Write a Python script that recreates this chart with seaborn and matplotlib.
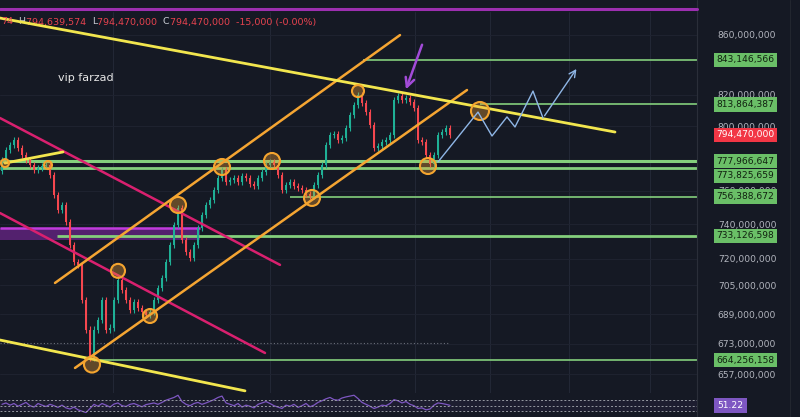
import numpy as np
import pandas as pd
import seaborn as sns
import matplotlib.pyplot as plt
import matplotlib.transforms as mtransforms
from matplotlib.lines import Line2D
from matplotlib.ticker import NullLocator

# prices in millions, one candle per bar index
closes = [778.7, 784.9, 788.0, 791.2, 786.2, 781.9, 778.7, 775.6, 772.6, 773.8,
          775.0, 775.6, 769.5, 757.4, 748.4, 751.4, 741.3, 728.0, 718.2, 716.5,
          696.9, 680.6, 665.7, 680.6, 686.0, 696.9, 680.6, 681.7, 696.9, 708.0,
          702.4, 696.9, 691.4, 695.8, 692.5, 690.3, 688.7, 690.3, 696.9, 703.5,
          709.1, 718.2, 728.0, 739.6, 749.6, 730.8, 723.9, 720.5, 728.0, 737.8,
          745.5, 751.4, 754.4, 760.4, 767.6, 772.6, 765.2, 766.4, 767.6, 765.2,
          768.9, 767.6, 764.0, 762.8, 767.6, 771.3, 775.6, 777.5, 775.6, 769.5,
          760.4, 763.4, 765.2, 762.8, 761.6, 760.4, 758.0, 756.8, 763.4, 769.5,
          775.6, 788.0, 794.3, 794.9, 791.2, 792.4, 798.7, 807.0, 813.4, 819.9,
          814.7, 808.9, 800.6, 786.2, 787.4, 789.9, 791.2, 794.3, 816.7, 819.2,
          816.7, 818.0, 815.4, 811.5, 791.2, 789.9, 781.9, 776.2, 781.9, 794.3,
          796.2, 798.7, 794.47]
first_open = 772.0

rsi = [55, 60, 52, 58, 48, 55, 62, 50, 45, 58, 52, 47, 55, 50, 44, 52,
       42, 38, 45, 35, 30, 25, 40,
       55, 48, 58, 52, 45, 56, 60, 50, 47, 55, 58, 52, 46, 54, 57, 60, 55, 62,
       70, 75, 80, 88, 65, 55,
       50, 58, 62, 55, 60, 66, 72, 80, 85,
       60, 55, 50, 58, 45, 52, 48, 42, 55, 60, 65, 58, 50, 45, 40, 52, 48, 55,
       44, 50, 58, 46, 52, 62, 68,
       75, 80, 72, 70, 78, 82, 85, 88, 76, 62,
       55, 48, 40, 45, 52, 50, 58, 72, 68, 60, 65, 55, 50, 40, 42, 35, 38, 52,
       60, 58, 55, 51.22]

price_ticks = [860, 820, 800, 760, 740, 720, 705, 689, 673, 657]
levels = [843.146566, 813.864387, 777.966647, 773.825659, 756.388672, 733.126598, 664.256158]
# where each level's price tag sits on the scale (tags pushed apart when they crowd)
level_tag_y = [843.146566, 813.864387, 777.966647, 768.9, 756.388672, 733.126598, 664.256158]
level_starts = [90.25, 119.5, -0.5, -0.5, 72, 13.75, 23.5]
level_widths = [1.2, 1.2, 2.2, 2.0, 1.2, 2.0, 1.2]
last_price = 794.47

# drawing tools: (bar index, price)
yellow_lines = [[(-0.5, 871.6), (153.25, 796.2)],
                [(-0.5, 675.0), (60.75, 648.3)],
                [(0.75, 776.8), (15.25, 783.7)]]
orange_lines = [[(13.25, 706.3), (99.5, 859.9)],
                [(18.25, 660.2), (116.25, 823.2)]]
pink_lines = [[(-0.5, 805.1), (69.5, 716.5)],
              [(-0.5, 746.6), (65.75, 668.1)]]
band_x = [-0.5, 49.5]
band_low, band_high = 730.8, 737.8

circle_x = [0.75, 11.5, 22.5, 29, 37, 44, 55, 67.5, 77.5, 89, 106.5, 119.5]
circle_y = [776.8, 775.6, 662.0, 713.1, 688.0, 751.4, 774.4, 778.1, 755.6, 822.5, 775.0, 809.6]
circle_r = [4, 4, 8, 7, 7, 8, 8, 8, 8, 6, 8, 9]

path_x = [109, 119, 122.5, 126.25, 128.25, 132.75, 135.25, 144]
path_y = [777.5, 808.9, 793.7, 805.8, 799.4, 822.5, 805.1, 838.6]

arrow_from = (105.25, 855.1)
arrow_to = (100.75, 821.9)

grid_x = [27.75, 67, 103.25, 122, 141.75, 162]

bg = '#151924'
sns.set_theme(style='dark', rc={'axes.facecolor': bg, 'figure.facecolor': bg})

fig = plt.figure(figsize=(8, 4.17), dpi=100)
ax = fig.add_axes([0, 24 / 417, 697 / 800, 381 / 417])
ax2 = fig.add_axes([0, 0, 697 / 800, 24 / 417], sharex=ax)

df = pd.DataFrame({'close': closes})
df['open'] = df['close'].shift(1).fillna(first_open)
df['idx'] = np.arange(len(df))
up = df['close'] >= df['open']
colors = np.where(up, '#1fb096', '#f5474f')
body_lo = np.minimum(df['open'], df['close'])
body_hi = np.maximum(df['open'], df['close'])
ax.vlines(df['idx'], body_lo * 0.9975, body_hi * 1.0025, colors=colors, lw=0.8, zorder=4)
ax.bar(df['idx'], np.maximum(body_hi - body_lo, 0.4), bottom=body_lo, width=0.7,
       color=colors, edgecolor='none', linewidth=0, zorder=4)

ax.set_yscale('log')
ax.set_xlim(-0.5, 173.75)
ax.set_ylim(647.2, 875.8)
xr = 173.75

for gx in grid_x:
    ax.axvline(gx, color='#232836', lw=0.7, zorder=0)
for t in price_ticks:
    ax.axhline(t, color='#1f2330', lw=0.7, zorder=0)

# horizontal levels
for lv, x0, w in zip(levels, level_starts, level_widths):
    ax.hlines(lv, x0, xr, color='#84cf7c', lw=w, zorder=3)
ax.hlines(673.5, -0.5, 112, color='#6b6f7a', lw=0.8, linestyles=(0, (1, 2)), zorder=2)

ax.fill_between(band_x, band_low, band_high, color='#5b2277', alpha=0.9, zorder=2, lw=0)
ax.hlines(band_high, band_x[0], band_x[1], color='#c13bdc', lw=1.8, zorder=3)

for seg in pink_lines:
    (x0, y0), (x1, y1) = seg
    ax.plot([x0, x1], [y0, y1], color='#d9206f', lw=1.8, zorder=5)
for seg in orange_lines:
    (x0, y0), (x1, y1) = seg
    ax.plot([x0, x1], [y0, y1], color='#f5a532', lw=1.8, zorder=5)
for seg in yellow_lines:
    (x0, y0), (x1, y1) = seg
    ax.plot([x0, x1], [y0, y1], color='#f2e64e', lw=2.0, zorder=5)

sizes = [(1.44 * r) ** 2 for r in circle_r]
ax.scatter(circle_x, circle_y, s=sizes, facecolors=(0.95, 0.63, 0.2, 0.35),
           edgecolors='#f5a52f', linewidths=1.5, zorder=6)

sns.lineplot(x=path_x[:-1], y=path_y[:-1], ax=ax, color='#8fb6e6', lw=1.0, zorder=6,
             sort=False, estimator=None)
ax.annotate('', xy=(path_x[-1], path_y[-1]), xytext=(path_x[-2], path_y[-2]),
            arrowprops=dict(arrowstyle='->', color='#8fb6e6', lw=1.0, mutation_scale=12), zorder=6)
ax.annotate('', xy=arrow_to, xytext=arrow_from,
            arrowprops=dict(arrowstyle='->', color='#a24bd8', lw=1.8, mutation_scale=16), zorder=7)

ax.set_yticks(price_ticks)
ax.set_yticklabels([f"{t * 1e6:,.0f}" for t in price_ticks])
ax.yaxis.set_minor_locator(NullLocator())
ax.yaxis.tick_right()
ax.tick_params(axis='y', length=0, pad=15, labelsize=6.6, labelcolor='#b2b5be')
ax.tick_params(axis='x', length=0, labelbottom=False)
ax.set_xlabel('')
ax.set_ylabel('')
for s in ax.spines.values():
    s.set_visible(False)

tr = mtransforms.blended_transform_factory(fig.transFigure, ax.transData)
for lv, ty in zip(levels, level_tag_y):
    ax.text(745.5 / 800, ty, f"{round(lv * 1e6):,}", transform=tr, ha='center', va='center',
            fontsize=6.6, color='#10200f', clip_on=False, zorder=10,
            bbox=dict(boxstyle='square,pad=0.3', fc='#6abf67', ec='none'))
ax.text(745.5 / 800, last_price, f"{round(last_price * 1e6):,}", transform=tr, ha='center',
        va='center', fontsize=6.6, color='white', clip_on=False, zorder=10,
        bbox=dict(boxstyle='square,pad=0.3', fc='#f23645', ec='none'))

# RSI pane
sns.lineplot(x=np.arange(len(rsi)), y=rsi, ax=ax2, color='#7e57c2', lw=0.9)
ax2.fill_between([-0.5, xr], 30, 70, color='#7e57c2', alpha=0.08, lw=0)
for lv in [70, 50, 30]:
    ax2.axhline(lv, color='#9598a1', lw=0.7, ls=(0, (2, 2)))
ax2.set_ylim(8.9, 96.2)
ax2.set_yticks([])
ax2.tick_params(axis='x', length=0, labelbottom=False)
ax2.set_xlabel('')
ax2.set_ylabel('')
for s in ax2.spines.values():
    s.set_visible(False)
tr2 = mtransforms.blended_transform_factory(fig.transFigure, ax2.transData)
ax2.text(730.5 / 800, rsi[-1], f"{rsi[-1]:.2f}", transform=tr2, ha='center', va='center',
         fontsize=6.6, color='white', clip_on=False,
         bbox=dict(boxstyle='square,pad=0.35', fc='#7e57c2', ec='none'))

# frame lines and header
fig.add_artist(Line2D([697 / 800, 697 / 800], [0, 1], color='#2a2e39', lw=0.8))
fig.add_artist(Line2D([790 / 800, 790 / 800], [0, 1], color='#22262f', lw=0.8))
fig.add_artist(Line2D([0, 697 / 800], [1 - 8.5 / 417] * 2, color='#9c2fb0', lw=2.2))

red = '#e8434f'
grey = '#c9ccd4'
parts = [("H", grey), ("794,639,574  ", red), ("L", grey), ("794,470,000  ", red),
         ("C", grey), ("794,470,000  -15,000 (-0.00%)", red)]
t = fig.text(1 / 800, 1 - 22 / 417, "74", color=red, fontsize=6.8, va='center')
first = True
for s, c in parts:
    t = ax.annotate(s, xy=(1, 0), xycoords=t, xytext=(4 if first else 0, 0),
                    textcoords='offset points', ha='left', va='bottom', color=c,
                    fontsize=6.8, annotation_clip=False)
    first = False

fig.text(86 / 800, 1 - 78 / 417, 'vip farzad', color='#e6e6e6', fontsize=8,
         ha='center', va='center')

fig.savefig('out.png', dpi=100, facecolor=bg)
